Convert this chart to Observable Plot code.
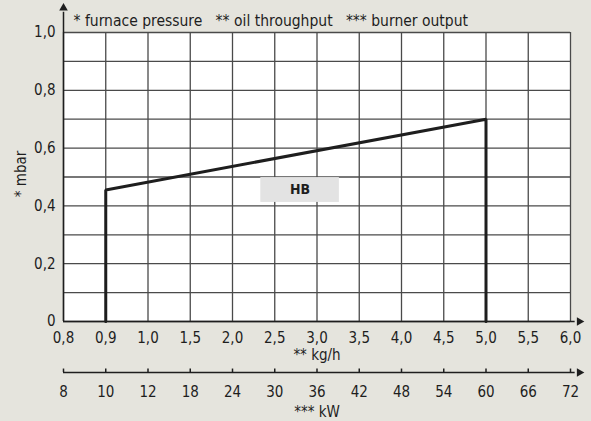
<!DOCTYPE html>
<html>
<head>
<meta charset="utf-8">
<script src="https://cdn.jsdelivr.net/npm/d3@7"></script>
<script src="https://cdn.jsdelivr.net/npm/@observablehq/plot@0.6"></script>
<style>
  html, body { margin: 0; padding: 0; background: #e5e4dd; }
  #chart svg { display: block; }
</style>
</head>
<body>
<div id="chart"></div>
<script>
// Tick labels (equally spaced positions on the x axis)
const kgLabels = ["0,8","0,9","1,0","1,5","2,0","2,5","3,0","3,5","4,0","4,5","5,0","5,5","6,0"];
const kwLabels = ["8","10","12","18","24","30","36","42","48","54","60","66","72"];
const yTicks = [0, 0.2, 0.4, 0.6, 0.8, 1.0];
const yGrid = [0, 0.1, 0.2, 0.3, 0.4, 0.5, 0.6, 0.7, 0.8, 0.9, 1.0];

// Operating envelope "HB": oil throughput (kg/h) vs furnace pressure (mbar)
const envKg = ["0,9", "0,9", "5,0", "5,0"];
const envMbar = [0, 0.455, 0.70, 0];

// Label
const labelText = ["HB"];
const labelKg = [2.8];    // kg/h position (between 2,5 and 3,0)
const labelMbar = [0.455];

const titleText = "* furnace pressure   ** oil throughput   *** burner output";
const yLabel = "* mbar";
const xLabel = "** kg/h";
const x2Label = "*** kW";

// helpers: map kg labels to equal-spaced index
const idx = (lab) => kgLabels.indexOf(lab);
const envelope = envKg.map((k, i) => ({x: idx(k), y: envMbar[i]}));
const labelData = labelText.map((t, i) => ({
  text: t,
  x: idx("2,5") + (labelKg[i] - 2.5) / 0.5,
  y: labelMbar[i]
}));

const N = kgLabels.length - 1;   // 12
const xEnd = N + 0.36;           // arrow tip beyond last tick
const ticksIdx = d3.range(0, N + 1);
const font = "'Liberation Sans Narrow', 'DejaVu Sans Condensed', 'Roboto Condensed', sans-serif";
const ink = "#1e1e1e";
const gridCol = "#4a4a4a";
const dy2 = 51;                  // offset of the kW axis below the kg/h axis

const chart = Plot.plot({
  width: 591,
  height: 421,
  marginLeft: 63,
  marginRight: 21,
  marginTop: 32,
  marginBottom: 100,
  style: {background: "#e5e4dd", fontFamily: font, fontSize: "15px", color: ink, overflow: "visible"},
  x: {type: "linear", domain: [0, N], axis: null},
  y: {type: "linear", domain: [0, 1], axis: null},
  marks: [
    // plot area
    Plot.rect([0], {x1: 0, x2: N, y1: 0, y2: 1, fill: "white"}),
    // grid
    Plot.ruleX(ticksIdx, {y1: 0, y2: 1, stroke: gridCol, strokeWidth: 1.3}),
    Plot.ruleY(yGrid, {x1: 0, x2: N, stroke: gridCol, strokeWidth: 1.3}),
    // HB box
    Plot.rect(labelData, {x1: d => d.x - 0.93, x2: d => d.x + 0.93, y1: d => d.y - 0.043, y2: d => d.y + 0.043, fill: "#e3e3e3"}),
    Plot.text(labelData, {x: "x", y: "y", text: "text", fontWeight: "bold", fontSize: 14, fill: ink}),
    // envelope
    Plot.line(envelope, {x: "x", y: "y", stroke: ink, strokeWidth: 3, strokeLinejoin: "miter"}),
    // y axis line with arrow
    Plot.ruleX([0], {y1: 0, y2: 1.07, stroke: ink, strokeWidth: 1.5}),
    Plot.dot([0], {x: 0, y: 1.085, symbol: "triangle", r: 3.2, fill: ink, stroke: null}),
    // x axis line with arrow
    Plot.ruleY([0], {x1: 0, x2: xEnd - 0.25, stroke: ink, strokeWidth: 1.5}),
    Plot.dot([0], {x: xEnd - 0.15, y: 0, symbol: "triangle", rotate: 90, r: 3.2, fill: ink, stroke: null}),
    // second (kW) axis line with arrow and small ticks
    Plot.ruleY([0], {x1: 0, x2: xEnd - 0.25, dy: dy2, stroke: ink, strokeWidth: 1.5}),
    Plot.dot([0], {x: xEnd - 0.15, y: 0, dy: dy2, symbol: "triangle", rotate: 90, r: 3.2, fill: ink, stroke: null}),
    Plot.ruleX(ticksIdx, {x: d => d, y1: 0, y2: 0.012, dy: dy2, stroke: ink, strokeWidth: 1.5}),
    // y tick labels
    Plot.axisY({ticks: yTicks, tickSize: 0, tickPadding: 8, tickFormat: d => d === 0 ? "0" : d3.format(".1f")(d).replace(".", ","), fontSize: 15, label: null}),
    // x tick labels (kg/h)
    Plot.axisX({ticks: ticksIdx, tickSize: 0, tickPadding: 11, tickFormat: i => kgLabels[i], fontSize: 15, label: null}),
    // x tick labels (kW)
    Plot.axisX({ticks: ticksIdx, tickSize: 0, tickPadding: 11, dy: dy2 + 3, tickFormat: i => kwLabels[i], fontSize: 15, label: null}),
    // axis titles
    Plot.text([xLabel], {x: idx("3,0"), y: 0, dy: 34, text: d => d, fontSize: 15, fill: ink}),
    Plot.text([x2Label], {x: idx("3,0"), y: 0, dy: 91, text: d => d, fontSize: 15, fill: ink}),
    Plot.text([yLabel], {x: 0, y: 0.5, dx: -42, dy: -3, rotate: -90, text: d => d, fontSize: 15, fill: ink}),
    // title
    Plot.text([titleText], {frameAnchor: "top-left", dx: 10, dy: -18, textAnchor: "start", text: d => d, fontSize: 15.5, fill: ink})
  ]
});
document.getElementById("chart").appendChild(chart);
</script>
</body>
</html>
